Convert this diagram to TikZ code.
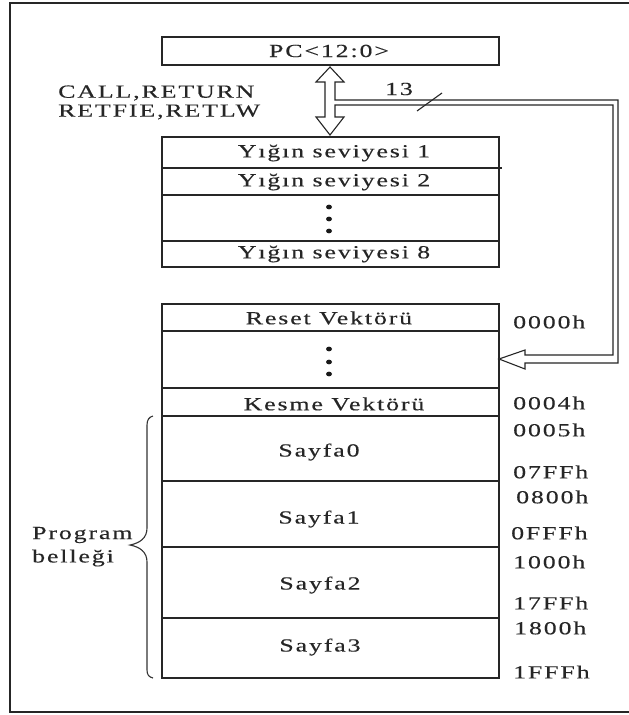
\documentclass[tikz,border=0pt]{standalone}
\usepackage{fontspec}
\setmainfont{Liberation Serif}[FakeStretch=1.4,LetterSpace=10,FakeBold=0.25]
\begin{document}
\begin{tikzpicture}[x=1pt,y=-1pt,
  ln/.style={draw=black!85, line width=1.3pt},
  thin/.style={draw=black!85, line width=1.1pt},
  lbl/.style={inner sep=0pt, text=black!85, font=\fontsize{18.5}{21}\selectfont},
  addr/.style={lbl, anchor=west},
  bigdot/.style={fill=black!90}
]
\useasboundingbox (0,0) rectangle (629,715);
\clip (0,0) rectangle (629,715);
\fill[white] (0,0) rectangle (629,715);
% outer frame (cut off at the right)
\draw[line width=1.6pt, draw=black!85] (10,3) rectangle (640,712);

% PC box
\draw[ln] (162,37) rectangle (499,65);
\node[lbl] (pc) at (329,51) {PC<12:0>};

% stack
\draw[ln] (162,137) rectangle (499,267);
\draw[ln] (162,168) -- (502,168);
\draw[ln] (162,195) -- (499,195);
\draw[ln] (162,241) -- (499,241);
\node[lbl] (s1) at (334,153) {Yığın seviyesi 1};
\node[lbl] (s2) at (334,182) {Yığın seviyesi 2};
\node[lbl] (s8) at (334,254) {Yığın seviyesi 8};
\fill[bigdot] (329,207) ellipse [x radius=3, y radius=2.4];
\fill[bigdot] (329,219) ellipse [x radius=3, y radius=2.4];
\fill[bigdot] (329,231) ellipse [x radius=3, y radius=2.4];

% program memory
\draw[ln] (162,304) rectangle (499,678);
\foreach \yy in {331,388,416,481,547,618} \draw[ln] (162,\yy) -- (499,\yy);
\node[lbl] (reset) at (329,318) {Reset Vektörü};
\node[lbl] (kesme) at (334,404) {Kesme Vektörü};
\node[lbl] (p0) at (319,452) {Sayfa0};
\node[lbl] (p1) at (319,519) {Sayfa1};
\node[lbl] (p2) at (320,585) {Sayfa2};
\node[lbl] (p3) at (320,647) {Sayfa3};
\fill[bigdot] (329,349) ellipse [x radius=3, y radius=2.4];
\fill[bigdot] (329,362) ellipse [x radius=3, y radius=2.4];
\fill[bigdot] (329,374) ellipse [x radius=3, y radius=2.4];

% addresses
\node[addr] (a0000) at (513,322) {0000h};
\node[addr] (a0004) at (513,403) {0004h};
\node[addr] (a0005) at (513,430) {0005h};
\node[addr] (a07FF) at (513,472) {07FFh};
\node[addr] (a0800) at (516,497) {0800h};
\node[addr] (a0FFF) at (511,533) {0FFFh};
\node[addr] (a1000) at (513,562) {1000h};
\node[addr] (a17FF) at (513,603) {17FFh};
\node[addr] (a1800) at (514,628) {1800h};
\node[addr] (a1FFF) at (513,672) {1FFFh};

% instruction labels
\node[addr] (call) at (58,93) {CALL,RETURN};
\node[addr] (retf) at (58,112) {RETFIE,RETLW};

% double arrow PC <-> stack and 13-bit bus into memory
\draw[thin, fill=white, line join=miter]
  (335,100) -- (335,82) -- (344,82) -- (330,67) -- (316,82) -- (325,82)
  -- (325,117) -- (316,117) -- (330,135) -- (344,117) -- (335,117)
  -- (335,105) -- (613,105) -- (613,355) -- (525,355) -- (525,350)
  -- (499,359) -- (525,369) -- (525,363) -- (618,363) -- (618,100) -- cycle;
\coordinate (sl1) at (417,111);
\coordinate (sl2) at (442,93);
\draw[thin] (sl1) -- (sl2);
\node[lbl] (n13) at (399,89) {13};

% brace and label
\draw[line width=1.1pt, draw=black!80]
  (153,416) .. controls (149,417) and (147,420) .. (147,425) -- (147,528)
  .. controls (147,538) and (140,543) .. (130,545)
  .. controls (140,547) and (147,552) .. (147,562) -- (147,670)
  .. controls (147,675) and (149,677) .. (153,678);
\node[addr] (prog) at (32,535) {Program};
\node[addr] (bell) at (32,558) {belleği};
\end{tikzpicture}
\end{document}
